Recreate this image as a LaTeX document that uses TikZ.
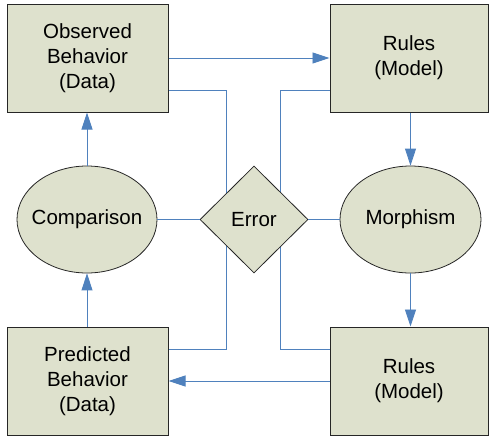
\documentclass[tikz,border=0pt]{standalone}
\usepackage{fontspec}
\setmainfont{Liberation Sans}
\usetikzlibrary{shapes.geometric,arrows.meta}
\definecolor{shapefill}{RGB}{222,225,205}
\definecolor{linkblue}{RGB}{79,129,189}
\tikzset{
  every node/.style={font=\fontsize{20.5}{25}\selectfont, align=center, text=black},
  databox/.style={draw=black!85, line width=1pt, fill=shapefill, rectangle, inner sep=0pt},
  oval/.style={draw=black!85, line width=0.8pt, fill=shapefill, ellipse, inner sep=0pt,
               minimum width=140pt, minimum height=107pt},
  decision/.style={draw=black!85, line width=0.8pt, fill=shapefill, diamond, inner sep=0pt,
               minimum width=108pt, minimum height=107pt},
  link/.style={draw=linkblue, line width=0.85pt},
  flow/.style={link, -{Triangle[length=17pt,width=11pt]}}
}
\begin{document}
\begin{tikzpicture}[x=1pt,y=-1pt]
  \useasboundingbox (0,0) rectangle (489,437);

  % data and model boxes
  \node[databox, minimum width=161pt, minimum height=108pt] (obs) at (87.5,58) {Observed\\Behavior\\(Data)};
  \node[databox, minimum width=158pt, minimum height=108pt] (rt) at (409,58) {Rules\\(Model)};
  \node[databox, minimum width=161pt, minimum height=108pt] (pred) at (87.5,381) {Predicted\\Behavior\\(Data)};
  \node[databox, minimum width=158pt, minimum height=108pt] (rb) at (409,381) {Rules\\(Model)};

  % process ovals (labels kept narrow so the ellipse keeps its set size)
  \node[oval] (comp) at (87,219.5) {\makebox[40pt]{Comparison}};
  \node[oval, minimum width=141pt] (morph) at (410.5,219.5) {\makebox[40pt]{Morphism}};

  % feedback loops running behind the error diamond
  \draw[link] (obs.east |- 0,90) -- (226,90) -- (226,349) -- (pred.east |- 0,349);
  \draw[link] (rt.west |- 0,90) -- (280,90) -- (280,349) -- (rb.west |- 0,349);

  % main flow
  \draw[flow] (obs.east) -- (rt.west);
  \draw[flow] (comp.north) -- (obs.south -| comp.north);
  \draw[flow] (pred.north -| comp.south) -- (comp.south);
  \draw[flow] (rt.south -| morph.north) -- (morph.north);
  \draw[flow] (morph.south) -- (rb.north -| morph.south);
  \draw[flow] (rb.west) -- (pred.east);

  % error diamond
  \node[decision] (err) at (254,219.5) {\makebox[20pt]{Error}};
  \draw[link] (comp.east) -- (err.west);
  \draw[link] (err.east) -- (morph.west);
\end{tikzpicture}
\end{document}
